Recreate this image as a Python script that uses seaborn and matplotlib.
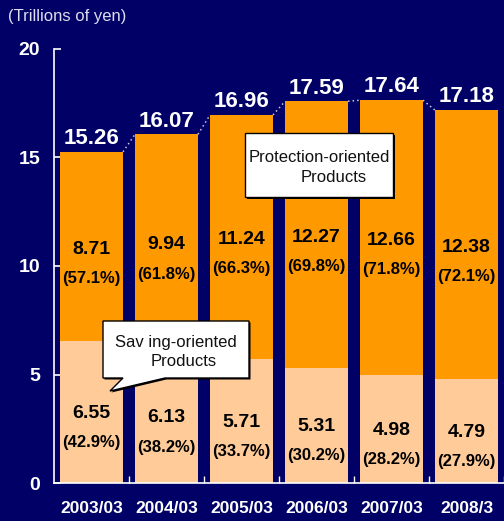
import numpy as np
import pandas as pd
import matplotlib
matplotlib.use("Agg")
import matplotlib.pyplot as plt
import seaborn as sns
from matplotlib.patches import Polygon
from matplotlib.transforms import Affine2D

# ---- data ----
years = ["2003/03", "2004/03", "2005/03", "2006/03", "2007/03", "2008/3"]
totals = [15.26, 16.07, 16.96, 17.59, 17.64, 17.18]
saving = [6.55, 6.13, 5.71, 5.31, 4.98, 4.79]
protection = [8.71, 9.94, 11.24, 12.27, 12.66, 12.38]
saving_pct = ["42.9", "38.2", "33.7", "30.2", "28.2", "27.9"]
protection_pct = ["57.1", "61.8", "66.3", "69.8", "71.8", "72.1"]
y_ticks = [0, 5, 10, 15, 20]

sns.set_theme(style="white")
plt.rcParams["font.family"] = ["Liberation Sans", "DejaVu Sans"]

NAVY = "#000066"
ORANGE = "#FF9900"
PEACH = "#FFCC99"

W, H = 504, 521
fig = plt.figure(figsize=(W / 100, H / 100), dpi=100, facecolor=NAVY)
ax = fig.add_axes([54 / W, 38 / H, 450 / W, 434 / H])
ax.set_facecolor(NAVY)

df = pd.DataFrame({"year": years, "total": totals, "saving": saving,
                   "protection": protection})
sns.barplot(data=df, x="year", y="total", color=ORANGE, saturation=1,
            width=0.84, errorbar=None, ax=ax, linewidth=0)
sns.barplot(data=df, x="year", y="saving", color=PEACH, saturation=1,
            width=0.84, errorbar=None, ax=ax, linewidth=0)

tot_bars = list(ax.patches[:len(years)])
sav_bars = list(ax.patches[len(years):2 * len(years)])

# dotted connectors between bar tops
for a, b in zip(tot_bars[:-1], tot_bars[1:]):
    ax.plot([a.get_x() + a.get_width(), b.get_x()],
            [a.get_height(), b.get_height()],
            ls=(0, (1, 2)), color="#C8C8D8", lw=1.1, zorder=1)

# labels
for i, (tb, sb) in enumerate(zip(tot_bars, sav_bars)):
    cx = tb.get_x() + tb.get_width() / 2
    top = tb.get_height()
    sv = sb.get_height()
    ax.annotate(f"{totals[i]:.2f}", (cx, top), xytext=(0, 2),
                textcoords="offset points", ha="center", va="bottom",
                fontsize=16, fontweight="bold", color="white")
    # protection segment
    pc = (sv + top) / 2
    ax.annotate(f"{protection[i]:.2f}", (cx, pc), xytext=(0, -2),
                textcoords="offset points", ha="center", va="center",
                fontsize=14, fontweight="bold", color="black")
    ax.annotate(f"({protection_pct[i]}%)", (cx, pc), xytext=(0, -23),
                textcoords="offset points", ha="center", va="center",
                fontsize=12, fontweight="bold", color="black")
    # saving segment
    scn = sv / 2
    ax.annotate(f"{saving[i]:.2f}", (cx, scn), xytext=(0, -1),
                textcoords="offset points", ha="center", va="center",
                fontsize=14, fontweight="bold", color="black")
    ax.annotate(f"({saving_pct[i]}%)", (cx, scn), xytext=(0, -22),
                textcoords="offset points", ha="center", va="center",
                fontsize=12, fontweight="bold", color="black")

# axes styling
ax.set_xlim(-0.5, len(years) - 0.5)
ax.set_ylim(0, 20)
ax.set_xlabel("")
ax.set_ylabel("")
for s in ["top", "right"]:
    ax.spines[s].set_visible(False)
for s in ["left", "bottom"]:
    ax.spines[s].set_color("white")
    ax.spines[s].set_linewidth(1.2)

ax.set_yticks(y_ticks)
ax.tick_params(axis="y", direction="in", length=5, width=1.2, color="white",
               labelcolor="white", labelsize=14, pad=10, left=True)
ax.set_xticks(range(len(years)))
ax.set_xticklabels(years)
ax.tick_params(axis="x", which="major", length=0, labelcolor="white",
               labelsize=12.5, pad=13)
ax.set_xticks(np.arange(len(years)) + 0.5, minor=True)
ax.tick_params(axis="x", which="minor", direction="in", length=5, width=1,
               color="white", bottom=True)
for lbl in ax.get_xticklabels() + ax.get_yticklabels():
    lbl.set_fontweight("bold")

# unit label
fig.text(8 / W, 1 - 17 / H, "(Trillions of yen)", color="#DDDDEE",
         fontsize=12, ha="left", va="center")

# callouts (pixel coordinates from top-left)
px = Affine2D().scale(1 / W, -1 / H).translate(0, 1) + fig.transFigure

def rect(x0, y0, x1, y1):
    return [(x0, y0), (x1, y0), (x1, y1), (x0, y1)]

fig.patches.append(Polygon(rect(247, 135, 395, 199), closed=True,
                           transform=px, facecolor="black", edgecolor="none",
                           zorder=5))
fig.patches.append(Polygon(rect(245, 133, 393, 197), closed=True,
                           transform=px, facecolor="white", edgecolor="black",
                           lw=1, zorder=6))
fig.text(319, 157, "Protection-oriented", transform=px, fontsize=12,
         color="#111111", ha="center", va="center", zorder=7)
fig.text(334, 178, "Products", transform=px, fontsize=12,
         color="#111111", ha="center", va="center", zorder=7)

tail = [(103, 321), (249, 321), (249, 378), (165, 378), (110, 391),
        (123, 378), (103, 378)]
shadow = [(x + 1.5, y + 1.5) for x, y in tail]
fig.patches.append(Polygon(shadow, closed=True, transform=px,
                           facecolor="black", edgecolor="none", zorder=5))
fig.patches.append(Polygon(tail, closed=True, transform=px,
                           facecolor="white", edgecolor="black", lw=1,
                           zorder=6))
fig.text(176, 342, "Sav ing-oriented", transform=px, fontsize=12,
         color="#111111", ha="center", va="center", zorder=7)
fig.text(184, 361, "Products", transform=px, fontsize=12,
         color="#111111", ha="center", va="center", zorder=7)

fig.savefig("out.png", dpi=100, facecolor=NAVY)
